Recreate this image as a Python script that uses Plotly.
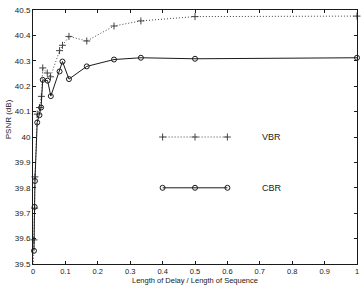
import plotly.graph_objects as go

# Data
vbr_x = [0.001, 0.003, 0.005, 0.006, 0.013, 0.02, 0.026, 0.03, 0.044, 0.054,
         0.082, 0.091, 0.111, 0.166, 0.25, 0.333, 0.5, 1.0]
vbr_y = [39.45, 39.595, 39.72, 39.843, 40.09, 40.116, 40.16, 40.272, 40.252, 40.237,
         40.34, 40.361, 40.396, 40.378, 40.437, 40.457, 40.474, 40.476]

cbr_x = [0.003, 0.005, 0.006, 0.013, 0.02, 0.025, 0.03, 0.045, 0.055, 0.082,
         0.091, 0.111, 0.166, 0.25, 0.333, 0.5, 1.0]
cbr_y = [39.552, 39.725, 39.827, 40.057, 40.086, 40.116, 40.225, 40.222, 40.161, 40.258,
         40.297, 40.228, 40.278, 40.305, 40.312, 40.308, 40.312]

legend_x = [0.4, 0.5, 0.6]
legend_vbr_y = [40.0, 40.0, 40.0]
legend_cbr_y = [39.8, 39.8, 39.8]
legend_text_x = 0.7

x_ticks = [0, 0.1, 0.2, 0.3, 0.4, 0.5, 0.6, 0.7, 0.8, 0.9, 1]
x_tick_labels = ["0", "0.1", "0.2", "0.3", "0.4", "0.5", "0.6", "0.7", "0.8", "0.9", "1"]
y_ticks = [39.5, 39.6, 39.7, 39.8, 39.9, 40.0, 40.1, 40.2, 40.3, 40.4, 40.5]
y_tick_labels = ["39.5", "39.6", "39.7", "39.8", "39.9", "40", "40.1", "40.2", "40.3", "40.4", "40.5"]

x_title = "Length of Delay / Length of Sequence"
y_title = "PSNR (dB)"

ink = "#1a1a1a"
font_family = "Liberation Sans, Arial"
vbr_style = dict(mode="lines+markers", cliponaxis=False,
                 line=dict(color="#444444", width=1, dash="1px,2px"),
                 marker=dict(symbol="cross-thin-open", size=5, line=dict(color=ink, width=1)))
cbr_style = dict(mode="lines+markers", cliponaxis=False,
                 line=dict(color=ink, width=1),
                 marker=dict(symbol="circle-open", size=5, line=dict(color=ink, width=1)))

fig = go.Figure()
fig.add_trace(go.Scatter(x=vbr_x, y=vbr_y, name="VBR", **vbr_style))
fig.add_trace(go.Scatter(x=cbr_x, y=cbr_y, name="CBR", **cbr_style))
fig.add_trace(go.Scatter(x=legend_x, y=legend_vbr_y, showlegend=False, **vbr_style))
fig.add_trace(go.Scatter(x=legend_x, y=legend_cbr_y, showlegend=False, **cbr_style))

for label, yv in (("VBR", legend_vbr_y[0]), ("CBR", legend_cbr_y[0])):
    fig.add_annotation(x=legend_text_x, y=yv, text=label, showarrow=False,
                       xanchor="left", yanchor="middle",
                       font=dict(family=font_family, size=9, color=ink))

# axis titles (placed at the bottom edge of the page)
fig.add_annotation(xref="paper", yref="paper", x=0.5, y=-0.0858, text=x_title,
                   showarrow=False, xanchor="center", yanchor="bottom",
                   borderpad=0, font=dict(family=font_family, size=7.5, color=ink))
fig.add_annotation(xref="paper", yref="paper", x=-0.077, y=0.57, text=y_title,
                   showarrow=False, xanchor="center", yanchor="middle", textangle=-90,
                   font=dict(family=font_family, size=8, color=ink))

axis_common = dict(showgrid=False, zeroline=False, showline=True, linecolor=ink,
                   linewidth=1, mirror="ticks", ticks="inside", ticklen=3,
                   automargin=False, tickcolor=ink)

fig.update_layout(
    width=361, height=285,
    margin=dict(l=33, r=4, t=10, b=21),
    paper_bgcolor="white", plot_bgcolor="white",
    showlegend=False,
    xaxis=dict(range=[0, 1], tickvals=x_ticks, ticktext=x_tick_labels,
               tickfont=dict(family=font_family, size=7.5, color=ink), **axis_common),
    yaxis=dict(range=[39.5, 40.5], tickvals=y_ticks, ticktext=y_tick_labels,
               tickfont=dict(family=font_family, size=8, color=ink), **axis_common),
)

fig.write_html("out.html")
